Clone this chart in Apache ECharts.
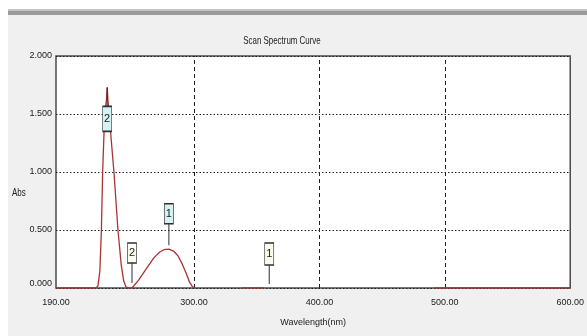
<!DOCTYPE html>
<html>
<head>
<meta charset="utf-8">
<script src="https://cdn.jsdelivr.net/npm/echarts@6/dist/echarts.min.js"></script>
<style>
html,body{margin:0;padding:0;background:#ffffff;}
#chart{width:587px;height:336px;}
</style>
</head>
<body>
<div id="chart"></div>
<script>
// ---- data ----
var wavelengths = [190, 200, 210, 220, 222, 223.5, 225, 226.2, 227.2, 228.8, 230.2, 230.8, 231.4, 232.4, 234, 236.2, 239.4, 242, 244, 245.7, 248, 250.6, 252, 256, 262.2, 268, 272.7, 276, 280, 284, 287.1, 290.5, 293.7, 296.5, 298.9, 301, 310, 338, 347, 356, 420, 491.6, 520, 550, 580, 600];
var absValues   = [0, 0, 0, 0, 0, 0.02, 0.15, 0.5, 1.0, 1.5, 1.62, 1.73, 1.62, 1.5, 1.28, 1.0, 0.5, 0.2, 0.06, 0.01, 0, 0, 0.01, 0.07, 0.17, 0.26, 0.31, 0.33, 0.335, 0.315, 0.28, 0.21, 0.13, 0.05, 0.01, 0, null, 0, 0, 0, null, 0, 0, 0, 0, 0];
var xTickValues = [190, 300, 400, 500, 600];
var xGridValues = [300, 400, 500];
var yTickValues = [0, 0.5, 1.0, 1.5, 2.0];
var markerNames = ['2', '1', '2', '1'];
var markerWl    = [230.8, 280, 250.6, 360];
var markerAbs   = [1.73, 0.335, 0, 0];
var markerType  = ['peak', 'peak', 'valley', 'valley'];

// ---- styles ----
var FONT = '"Liberation Sans Narrow", "Arial Narrow", "Liberation Sans", sans-serif';
var boxStyle = [
  {box: [9, 25], boxOff: 31.5, stem: 19, stemOff: 9.5},
  {box: [9, 20], boxOff: -35.5, stem: 22, stemOff: -15},
  {box: [9, 20], boxOff: -35, stem: 20, stemOff: -15},
  {box: [9, 22], boxOff: -34, stem: 19, stemOff: -13.5}
];

var seriesData = wavelengths.map(function (w, i) {
  return [w, absValues[i] === null ? '-' : absValues[i]];
});

var markData = [];
markerNames.forEach(function (n, i) {
  var s = boxStyle[i];
  markData.push({
    coord: [markerWl[i], markerAbs[i]],
    symbol: 'rect',
    symbolSize: [1, s.stem],
    symbolOffset: [0, s.stemOff],
    itemStyle: {color: '#303030', borderWidth: 0},
    label: {show: false}
  });
  markData.push({
    coord: [markerWl[i], markerAbs[i]],
    symbol: 'rect',
    symbolSize: s.box,
    symbolOffset: [0, s.boxOff],
    itemStyle: {
      color: markerType[i] === 'peak' ? '#d6f3f3' : '#fcfcee',
      borderColor: '#303030',
      borderWidth: 1
    },
    label: {
      show: true,
      formatter: n,
      position: 'inside',
      color: '#202020',
      fontFamily: FONT,
      fontSize: 11
    }
  });
});

var chart = echarts.init(document.getElementById('chart'), null, {renderer: 'canvas'});
chart.setOption({
  animation: false,
  backgroundColor: '#ffffff',
  graphic: [
    {type: 'rect', z: -10, shape: {x: 8, y: 15, width: 579, height: 321}, style: {fill: '#f0f0f0'}},
    {type: 'rect', z: -9, shape: {x: 8, y: 9, width: 579, height: 2}, style: {fill: '#c4c4c4'}},
    {type: 'rect', z: -9, shape: {x: 8, y: 11, width: 579, height: 4}, style: {fill: '#9a9a9a'}},
    {type: 'text', z: 10, x: 12, y: 188, scaleX: 0.8, style: {text: 'Abs', fill: '#202020', font: '10px ' + FONT}},
    {type: 'text', z: 10, x: 282, y: 35, scaleX: 0.72, style: {text: 'Scan Spectrum Curve', fill: '#202020', font: '11px ' + FONT, align: 'center'}}
  ],
  grid: {
    left: 56, top: 56, right: 12, bottom: 48,
    show: true,
    backgroundColor: '#ffffff',
    borderColor: '#4a4a4a',
    borderWidth: 1.5
  },
  xAxis: {
    type: 'value',
    min: 190,
    max: 600,
    name: 'Wavelength(nm)',
    nameLocation: 'middle',
    nameGap: 30,
    nameTextStyle: {fontFamily: FONT, fontSize: 9, color: '#202020'},
    axisLine: {show: false},
    axisTick: {show: false, customValues: xTickValues},
    splitLine: {show: false},
    axisLabel: {
      customValues: xTickValues,
      formatter: function (v) { return v.toFixed(2); },
      fontFamily: FONT, fontSize: 9, color: '#202020', margin: 10
    }
  },
  yAxis: {
    type: 'value',
    min: 0,
    max: 2,
    interval: 0.5,
    axisLine: {show: false},
    axisTick: {show: false},
    splitLine: {show: true, lineStyle: {color: '#202020', type: [1.5, 2], width: 1}},
    axisLabel: {
      customValues: yTickValues,
      formatter: function (v) { return v.toFixed(3); },
      fontFamily: FONT, fontSize: 9, color: '#202020', margin: 4,
      verticalAlignMinLabel: 'bottom'
    }
  },
  series: [{
    type: 'line',
    data: seriesData,
    connectNulls: false,
    showSymbol: false,
    symbol: 'none',
    z: 5,
    lineStyle: {color: '#a83434', width: 1.3},
    markLine: {
      silent: true,
      symbol: 'none',
      z: 1,
      label: {show: false},
      lineStyle: {color: '#202020', type: [4, 3], width: 1},
      data: xGridValues.map(function (v) { return {xAxis: v}; })
    },
    markPoint: {
      silent: true,
      z: 6,
      data: markData
    }
  }]
});
</script>
</body>
</html>
